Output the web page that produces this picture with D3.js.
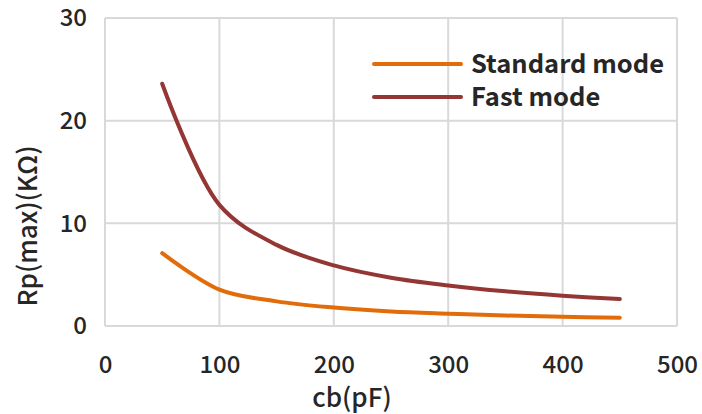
<!DOCTYPE html>
<html>
<head>
<meta charset="utf-8">
<script src="https://cdn.jsdelivr.net/npm/d3@7"></script>
<style>
  body { margin: 0; background: #fff; }
  text { font-family: "Noto Sans CJK SC", "Noto Sans", sans-serif; fill: #262626; }
</style>
</head>
<body>
<div id="chart"></div>
<script>
// data
let capacitance = [50, 100, 150, 200, 250, 300, 350, 400, 450];
let standardMode = [7.1, 3.55, 2.4, 1.8, 1.42, 1.2, 1.02, 0.9, 0.8];
let fastMode = [23.6, 11.8, 7.9, 5.9, 4.7, 3.95, 3.38, 2.95, 2.62];
let xTicks = [0, 100, 200, 300, 400, 500];
let yTicks = [0, 10, 20, 30];

let seriesNames = ["Standard mode", "Fast mode"];
let seriesColors = ["#e36c0a", "#943634"];

// set svg width and height
let svgWidth = 702;
let svgHeight = 414;

let margin = { top: 18, right: 25, bottom: 88, left: 105 };
let width = svgWidth - margin.left - margin.right;
let height = svgHeight - margin.top - margin.bottom;

let svg = d3.select("#chart")
  .append("svg")
  .attr("width", svgWidth)
  .attr("height", svgHeight);

let plot = svg.append("g")
  .attr("transform", `translate(${margin.left}, ${margin.top})`);

let x = d3.scaleLinear().domain([0, 500]).range([0, width]);
let y = d3.scaleLinear().domain([0, 30]).range([height, 0]);

// gridlines
plot.append("g")
  .selectAll("line")
  .data(xTicks)
  .enter()
  .append("line")
  .attr("x1", d => x(d)).attr("x2", d => x(d))
  .attr("y1", 0).attr("y2", height)
  .attr("stroke", "#d9d9d9")
  .attr("stroke-width", 2);

plot.append("g")
  .selectAll("line")
  .data(yTicks)
  .enter()
  .append("line")
  .attr("x1", 0).attr("x2", width)
  .attr("y1", d => y(d)).attr("y2", d => y(d))
  .attr("stroke", "#d9d9d9")
  .attr("stroke-width", 2);

// axes, only labels shown
let bottomAxis = d3.axisBottom(x).tickValues(xTicks).tickSize(0).tickPadding(30);
let leftAxis = d3.axisLeft(y).tickValues(yTicks).tickSize(0).tickPadding(18);

let gx = plot.append("g")
  .attr("transform", `translate(0, ${height})`)
  .call(bottomAxis);
let gy = plot.append("g").call(leftAxis);

[gx, gy].forEach(g => {
  g.select(".domain").remove();
  g.selectAll("text")
    .attr("font-size", 24)
    .attr("font-weight", 500)
    .attr("font-family", "Noto Sans CJK SC")
    .attr("fill", "#262626");
});

// lines
let series = [standardMode, fastMode];
let line = d3.line()
  .x((d, i) => x(capacitance[i]))
  .y(d => y(d))
  .curve(d3.curveCatmullRom.alpha(0.5));

plot.selectAll(".series")
  .data(series)
  .enter()
  .append("path")
  .attr("d", d => line(d))
  .attr("fill", "none")
  .attr("stroke", (d, i) => seriesColors[i])
  .attr("stroke-width", 4)
  .attr("stroke-linecap", "round");

// legend
let legend = svg.append("g")
  .attr("transform", "translate(374, 64)");

seriesNames.forEach(function(name, i) {
  let row = legend.append("g").attr("transform", `translate(0, ${i * 33})`);
  row.append("line")
    .attr("x1", 0).attr("x2", 87)
    .attr("stroke", seriesColors[i])
    .attr("stroke-width", 4)
    .attr("stroke-linecap", "round");
  row.append("text")
    .attr("x", 97)
    .attr("dy", "0.36em")
    .attr("font-size", 25.5)
    .attr("font-weight", 600)
    .text(name);
});

// axis titles
svg.append("text")
  .attr("x", 352)
  .attr("y", 407)
  .attr("text-anchor", "middle")
  .attr("font-size", 26)
  .attr("font-weight", 500)
  .text("cb(pF)");

svg.append("text")
  .attr("transform", "translate(37, 226) rotate(-90)")
  .attr("text-anchor", "middle")
  .attr("font-size", 26)
  .attr("font-weight", 500)
  .text("Rp(max)(KΩ)");
</script>
</body>
</html>
